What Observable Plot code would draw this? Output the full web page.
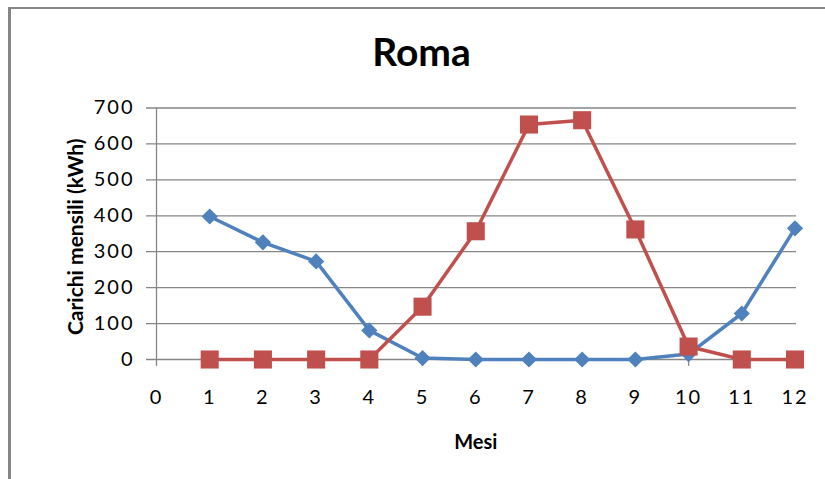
<!DOCTYPE html>
<html><head><meta charset="utf-8">
<script src="https://cdn.jsdelivr.net/npm/d3@7"></script>
<script src="https://cdn.jsdelivr.net/npm/@observablehq/plot@0.6"></script>
<style>
html,body{margin:0;padding:0;background:#fff;}
#wrap{position:relative;width:825px;height:479px;overflow:hidden;font-family:Lato,sans-serif;}
#frame{position:absolute;left:8px;top:7px;width:900px;height:600px;border-left:3px solid #868686;border-top:2px solid #868686;}
#title{position:absolute;left:0;top:32px;width:843px;text-align:center;font:bold 39px/39px Lato,sans-serif;color:#000;}
#chart{position:absolute;left:0;top:90px;}
#chart svg g.ticklab text{letter-spacing:2px;}
</style></head><body>
<div id="wrap"><div id="frame"></div><div id="title"></div><div id="chart"></div></div>
<script>
const titleText = "Roma";
const xLabel = "Mesi";
const yLabel = "Carichi mensili (kWh)";
const months = [1,2,3,4,5,6,7,8,9,10,11,12];
const heating = [398,326,273,81,4,0,0,0,0,15,128,365];
const cooling = [0,0,0,0,147,357,654,666,362,36,0,0];
const xTicks = [0,1,2,3,4,5,6,7,8,9,10,11,12];
const yTicks = [0,100,200,300,400,500,600,700];

document.getElementById("title").textContent = titleText;
const data = months.map((m,i)=>({m, h:heating[i], c:cooling[i]}));

const plot = Plot.plot({
  width:825, height:389,
  marginLeft:156, marginRight:30.5, marginTop:17.5, marginBottom:120,
  x:{domain:[0,12]}, y:{domain:[0,700], axis:null},
  style:{fontFamily:"Lato, sans-serif", background:"transparent"},
  marks:[
    Plot.ruleY(yTicks,{stroke:"#868686", strokeWidth:1.3, insetLeft:-10, insetRight:-1.5}),
    Plot.ruleX([0],{stroke:"#868686", strokeWidth:1.3}),
    Plot.axisX({ticks:xTicks, tickFormat:d=>String(d), tickSize:7, tickPadding:23, fontSize:20, label:null, stroke:"#868686", strokeWidth:1.3, fill:"#000", className:"ticklab"}),
    Plot.text(yTicks,{y:d=>d, text:d=>String(d), frameAnchor:"left", dx:-22, textAnchor:"end", lineAnchor:"middle", fontSize:20, fill:"#000", className:"ticklab"}),
    Plot.text([yLabel],{frameAnchor:"left", dx:-80, dy:3, rotate:-90, textAnchor:"middle", fontSize:21, fontWeight:"bold", fill:"#000", lineAnchor:"middle"}),
    Plot.text([xLabel],{frameAnchor:"bottom", dy:83, fontSize:20, fontWeight:"bold", fill:"#000", lineAnchor:"middle"}),
    Plot.line(data,{x:"m", y:"h", stroke:"#4F81BD", strokeWidth:3.5}),
    Plot.dot(data,{x:"m", y:"h", symbol:"diamond2", r:7.3, fill:"#4F81BD"}),
    Plot.line(data,{x:"m", y:"c", stroke:"#C0504D", strokeWidth:3.5}),
    Plot.dot(data,{x:"m", y:"c", symbol:"square", r:10.2, fill:"#C0504D"})
  ]
});
document.getElementById("chart").appendChild(plot);
</script>
</body></html>
